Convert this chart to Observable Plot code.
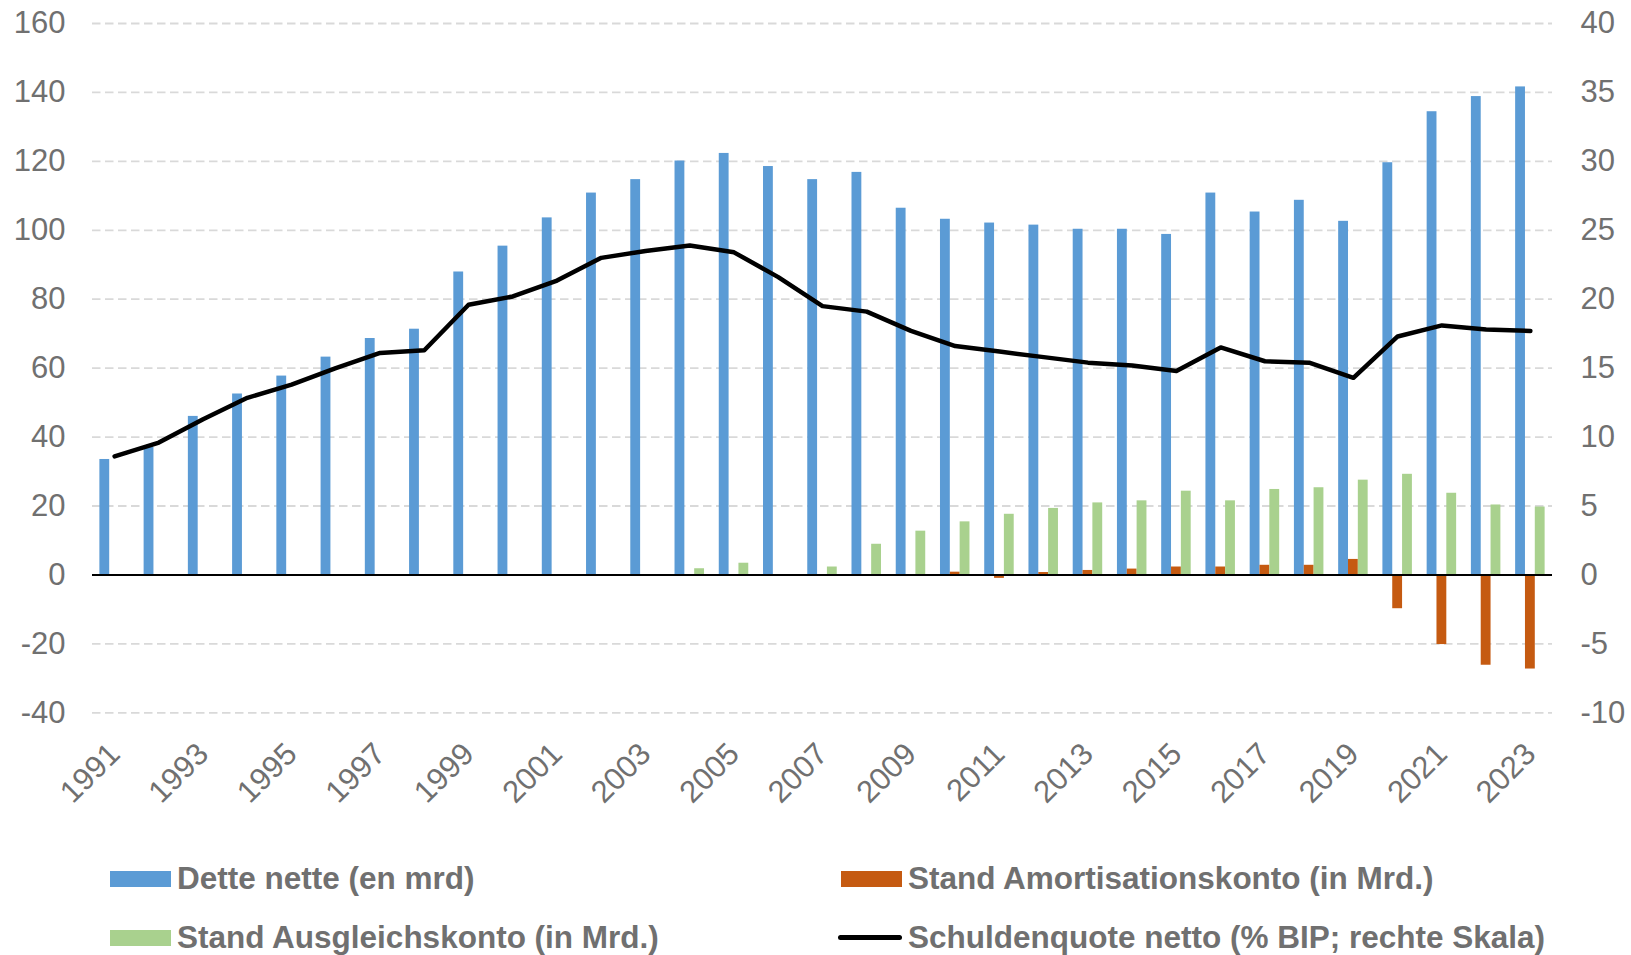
<!DOCTYPE html>
<html><head><meta charset="utf-8">
<script src="https://cdn.jsdelivr.net/npm/d3@7"></script>
<script src="https://cdn.jsdelivr.net/npm/@observablehq/plot@0.6"></script>
<style>
body{margin:0;background:#fff;}
#chart{width:1631px;height:840px;}
.legend{position:relative;width:1631px;height:115px;font-family:"Liberation Sans",Arial,sans-serif;font-weight:bold;font-size:31.5px;color:#707070;}
.item{position:absolute;display:flex;align-items:center;height:40px;white-space:nowrap;}
.sw{width:61px;height:16px;margin-right:6px;}
.ln{width:64px;height:5px;border-radius:3px;background:#000;margin-right:6px;}
</style></head><body>
<div id="chart"></div>
<div class="legend" id="legend"></div>
<script>
const years = [1991,1992,1993,1994,1995,1996,1997,1998,1999,2000,2001,2002,2003,2004,2005,2006,2007,2008,2009,2010,2011,2012,2013,2014,2015,2016,2017,2018,2019,2020,2021,2022,2023];
const tickYears = [1991,1993,1995,1997,1999,2001,2003,2005,2007,2009,2011,2013,2015,2017,2019,2021,2023];
const leftTicks = [-40,-20,0,20,40,60,80,100,120,140,160];
// Dette nette (en mrd) – left axis
const detteNette = [33.5,37,46,52.5,57.7,63.2,68.6,71.3,87.9,95.4,103.6,110.8,114.7,120.1,122.3,118.5,114.7,116.8,106.4,103.2,102.1,101.5,100.3,100.3,98.8,110.8,105.3,108.7,102.6,119.6,134.4,138.8,141.6];
// Stand Amortisationskonto (in Mrd.) – left axis
const amortisation = [null,null,null,null,null,null,null,null,null,null,null,null,null,null,null,null,null,null,null,0.8,-1,0.7,1.3,1.7,2.3,2.3,2.8,2.8,4.5,-9.8,-20.2,-26.2,-27.3];
// Stand Ausgleichskonto (in Mrd.) – left axis
const ausgleich = [null,null,null,null,null,null,null,null,null,null,null,null,null,1.8,3.4,null,2.3,8.9,12.7,15.4,17.6,19.3,20.9,21.5,24.3,21.5,24.8,25.3,27.5,29.2,23.7,20.3,19.7];
// Schuldenquote netto (% BIP) – right axis
const schuldenquote = [8.6,9.6,11.3,12.85,13.8,15.0,16.1,16.3,19.6,20.2,21.35,23.0,23.5,23.9,23.4,21.6,19.5,19.1,17.7,16.6,16.2,15.8,15.4,15.2,14.8,16.5,15.5,15.4,14.3,17.3,18.1,17.8,17.7];

const seriesNames = ["Dette nette (en mrd)","Stand Amortisationskonto (in Mrd.)","Stand Ausgleichskonto (in Mrd.)","Schuldenquote netto (% BIP; rechte Skala)"];
const colors = ["#5b9bd5","#c55a11","#a9d18e","#000000"];

const data = years.map((y,i)=>({year:y, dette:detteNette[i], amort:amortisation[i], ausg:ausgleich[i], quote:schuldenquote[i]}));

const W=1631, H=840, mL=92, mR=79, mT=23, mB=H-712.3;
const step=(W-mL-mR)/years.length;
const bar=step*(2/3)/3;
const ratio=4; // left = 4 × right

const chart = Plot.plot({
  width:W, height:H, marginLeft:mL, marginRight:mR, marginTop:mT, marginBottom:mB,
  style:{fontFamily:"'Liberation Sans', Arial, sans-serif", fontSize:"31px", color:"#707070", background:"#fff", overflow:"visible"},
  x:{type:"band", domain:years, paddingInner:1/3, paddingOuter:1/6, round:false, axis:null, label:null},
  y:{domain:[-40,160], axis:null, label:null},
  marks:[
    Plot.ruleY(leftTicks.filter(t=>t!==0), {stroke:"#d9d9d9", strokeWidth:1.8, strokeDasharray:"8.5,4.5"}),
    Plot.barY(data.filter(d=>d.dette!=null), {x:"year", y:"dette", fill:colors[0], insetRight:2*bar}),
    Plot.barY(data.filter(d=>d.amort!=null), {x:"year", y:"amort", fill:colors[1], insetLeft:bar, insetRight:bar}),
    Plot.barY(data.filter(d=>d.ausg!=null), {x:"year", y:"ausg", fill:colors[2], insetLeft:2*bar}),
    Plot.ruleY([0], {stroke:"#000", strokeWidth:2}),
    Plot.line(data, {x:"year", y:d=>d.quote*ratio, stroke:"#000", strokeWidth:4.5, strokeLinecap:"round", strokeLinejoin:"round"}),
    Plot.axisY({anchor:"left", ticks:leftTicks, tickSize:0, tickPadding:27, tickFormat:d=>String(d), label:null}),
    Plot.axisY({anchor:"right", ticks:leftTicks, tickSize:0, tickPadding:28, tickFormat:d=>String(d/ratio), label:null}),
    Plot.axisX({ticks:tickYears, tickSize:0, tickPadding:36, tickRotate:-45, tickFormat:d=>String(d), label:null})
  ]
});
document.getElementById("chart").appendChild(chart);

const legend = document.getElementById("legend");
const items = [
  {i:0, left:110, top:18.8, type:"sw"},
  {i:1, left:841, top:18.8, type:"sw"},
  {i:2, left:110, top:77.9, type:"sw"},
  {i:3, left:838, top:77.9, type:"ln"}
];
for (const it of items) {
  const el = document.createElement("div");
  el.className="item";
  el.style.left=it.left+"px"; el.style.top=it.top+"px";
  const sw=document.createElement("span");
  sw.className=it.type;
  if (it.type==="sw") sw.style.background=colors[it.i];
  const tx=document.createElement("span");
  tx.textContent=seriesNames[it.i];
  el.appendChild(sw); el.appendChild(tx);
  legend.appendChild(el);
}
</script>
</body></html>
